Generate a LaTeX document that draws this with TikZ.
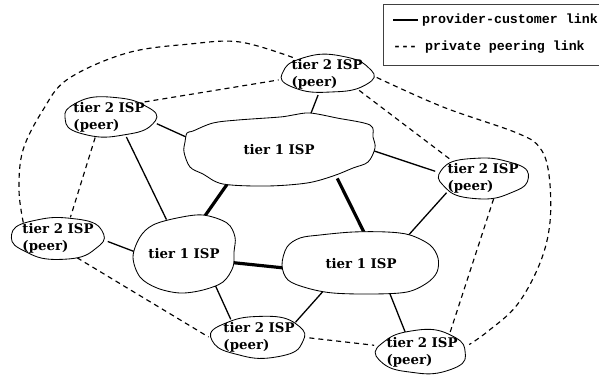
\documentclass[tikz,border=0pt]{standalone}
\usepackage{fontspec}
\setmainfont{DejaVu Serif}
\newfontfamily\legendfont{Liberation Mono}
\usetikzlibrary{shapes.geometric}
\pgfdeclarelayer{bg}
\pgfsetlayers{bg,main}
% wobbly blob: cx, cy, rx, ry, phase
\newcommand\ispblob[5]{%
  \draw[blobline] plot[smooth cycle, tension=0.6, domain=0:350, samples=36, variable=\t]
   ({#1+#3*cos(\t)*(1+0.035*sin(3*\t+#5)+0.015*sin(7*\t+2*#5))},
    {#2+#4*sin(\t)*(1+0.035*sin(3*\t+#5)+0.015*sin(7*\t+2*#5))});}
\begin{document}
\begin{tikzpicture}[x=1pt,y=-1pt,
  blobline/.style={line width=0.85pt, fill=white, line join=round},
  isp/.style={ellipse, draw=none, inner sep=0pt,
    font=\fontsize{13.3}{17}\selectfont\bfseries, align=left},
  pc/.style={line width=1.3pt},
  tonelink/.style={line width=3.2pt},
  peer/.style={line width=1.15pt, dash pattern=on 5pt off 4pt},
  legtext/.style={anchor=west, inner sep=0pt, font=\legendfont\bfseries\fontsize{13.3}{16}\selectfont},
]
\useasboundingbox (0,0) rectangle (599,378);

% legend
\draw[black!75, line width=0.9pt] (383,4) rectangle (612,65);
\node[legtext] (l1) at (422,20) {provider-customer link};
\node[legtext] (l2) at (393,47) {-{}-{}- private peering link};
\coordinate (ls1) at (393,20);
\coordinate (le1) at (418,20);
\draw[pc] (ls1) -- (le1);

% blob outlines
\ispblob{327}{74}{46}{19}{20}
\ispblob{109}{117}{46}{20}{70}
\ispblob{483}{178}{45}{20.5}{140}
\ispblob{58}{238}{46.5}{21}{200}
\ispblob{259}{337}{47}{21}{260}
\ispblob{422}{352}{45}{22}{310}
\draw[blobline] plot[smooth cycle, tension=0.55] coordinates {
  (187,133) (193,131) (213,123) (238,120) (280,117) (293,115) (310,113)
  (337,118) (370,125) (373,137) (375,148) (368,162) (353,168) (333,176)
  (307,183) (267,186) (223,184) (203,174) (190,167) (184,152) (185,142)};
\draw[blobline] plot[smooth cycle, tension=0.55] coordinates {
  (133,257) (140,237) (153,225) (177,218) (203,215) (227,223) (235,237)
  (234,252) (233,267) (223,282) (203,290) (180,293) (157,288) (140,277)};
\draw[blobline] plot[smooth cycle, tension=0.55] coordinates {
  (282,265) (287,247) (300,238) (320,235) (353,232) (387,232) (410,235)
  (430,245) (438,258) (437,272) (427,283) (407,292) (373,294) (333,293)
  (307,288) (288,280)};

% ISP nodes
\node[isp, minimum width=86pt, minimum height=34pt] (A) at (327,74) {tier 2 ISP\\(peer)};
\node[isp, minimum width=86pt, minimum height=36pt] (B) at (109,117) {tier 2 ISP\\(peer)};
\node[isp, minimum width=184pt, minimum height=73pt] (C) at (279,150) {tier 1 ISP};
\node[isp, minimum width=84pt, minimum height=37pt] (D) at (483,178) {tier 2 ISP\\(peer)};
\node[isp, minimum width=87pt, minimum height=38pt] (E) at (58,238) {tier 2 ISP\\(peer)};
\node[isp, minimum width=100pt, minimum height=73pt] (F) at (184,254) {tier 1 ISP};
\node[isp, minimum width=154pt, minimum height=57pt] (G) at (361,264) {tier 1 ISP};
\node[isp, minimum width=88pt, minimum height=38pt] (H) at (259,337) {tier 2 ISP\\(peer)};
\node[isp, minimum width=84pt, minimum height=40pt] (I) at (422,352) {tier 2 ISP\\(peer)};

\begin{pgfonlayer}{bg}
% provider-customer links
\draw[pc] (B.-8) -- (C.173);
\draw[pc] (B.-49) -- (F.117);
\draw[pc] (A.-113) -- (C.48);
\draw[pc] (C.0) -- (D.172);
\draw[pc] (E.-4) -- (F.177);
\draw[pc] (F.-44) -- (H.148);
\draw[pc] (G.29) -- (D.-158);
\draw[pc] (G.-145) -- (H.22);
\draw[pc] (G.-44) -- (I.130);

% tier 1 links
\draw[tonelink] (C.-148) -- (F.62);
\draw[tonelink] (C.-26) -- (G.81);
\draw[tonelink] (F.-10) -- (G.-177);

% peering links
\draw[peer] (B.23) -- (A.-173);
\draw[peer] (A.-27) -- (D.151);
\draw[peer] (B.-124) -- (E.59);
\draw[peer] (E.-46) -- (H.180);
\draw[peer] (H.-1) -- (I.172);
\draw[peer] (D.-63) -- (I.33);
\draw[peer] plot[smooth, tension=0.6] coordinates {(E.156) (19,190) (23,150) (43,110) (68,79) (127,53) (190,44) (240,42) (A.154)};
\draw[peer] plot[smooth, tension=0.6] coordinates {(A.-4) (443,107) (517,133) (540,148) (549,175) (550,222) (540,263) (517,305) (487,332) (I.9)};
\end{pgfonlayer}
\end{tikzpicture}
\end{document}
